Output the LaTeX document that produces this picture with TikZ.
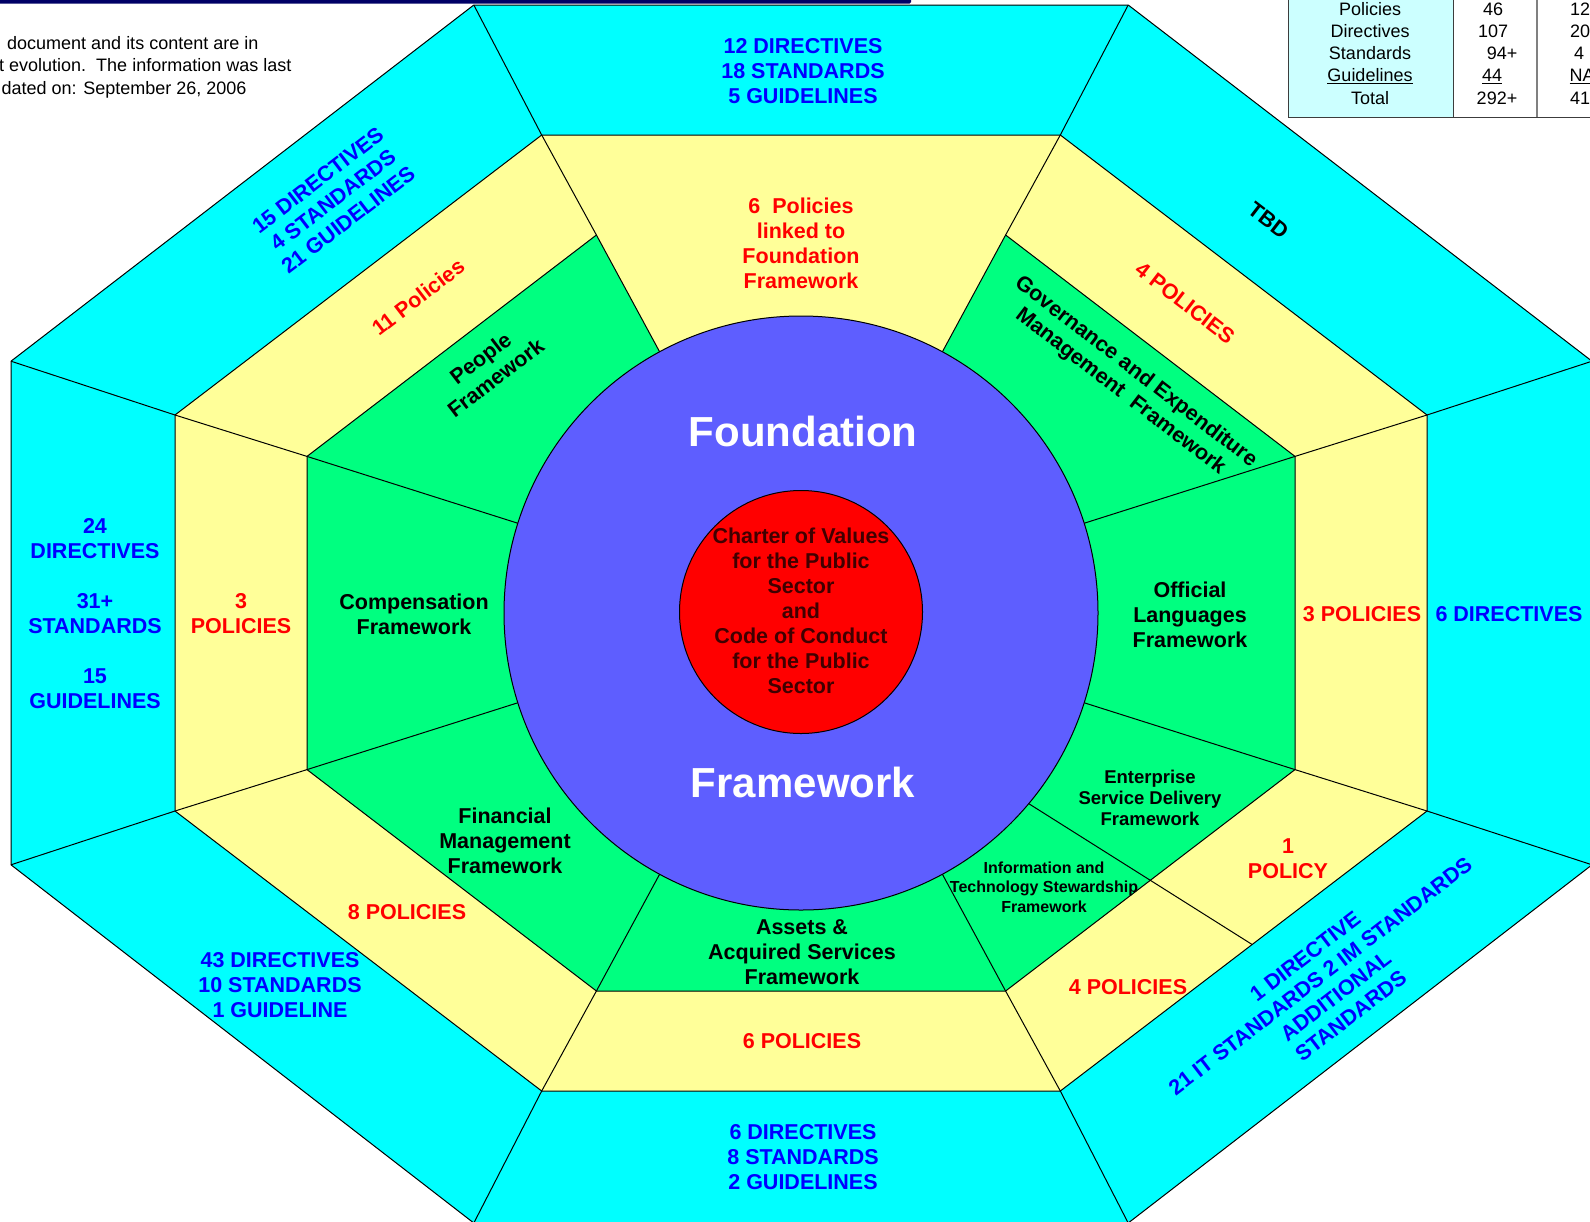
\documentclass[tikz,border=0pt]{standalone}
\usepackage{fontspec}
\setmainfont{Liberation Sans}
\usetikzlibrary{calc}
\definecolor{cyanfill}{RGB}{0,255,255}
\definecolor{yellowfill}{RGB}{255,255,153}
\definecolor{greenfill}{RGB}{0,255,128}
\definecolor{bluecircle}{RGB}{94,94,255}
\definecolor{redcircle}{RGB}{255,0,0}
\definecolor{bluetext}{RGB}{0,0,255}
\definecolor{redtext}{RGB}{255,0,0}
\definecolor{navybar}{RGB}{0,0,102}
\definecolor{tablefill}{RGB}{204,255,255}
\definecolor{charterText}{RGB}{64,0,0}
\definecolor{tableline}{RGB}{60,60,60}

\tikzset{
  edge/.style={draw=black, line width=1pt, line join=round},
  lbl/.style={font=\bfseries\fontsize{21.5}{25}\selectfont, align=center, inner sep=0pt},
  bluelbl/.style={lbl, text=bluetext},
  redlbl/.style={lbl, text=redtext},
  blacklbl/.style={lbl, text=black},
  bigwhite/.style={font=\bfseries\fontsize{42}{48}\selectfont, text=white, inner sep=0pt},
  tabtxt/.style={font=\fontsize{18}{22}\selectfont, anchor=base, inner sep=0pt},
  notetxt/.style={font=\fontsize{18}{22}\selectfont, anchor=base west, inner sep=0pt},
}

\begin{document}
\begin{tikzpicture}[x=1pt,y=-1pt]
\useasboundingbox (0,0) rectangle (1590,1221);
\clip (0,0) rectangle (1590,1221);
\fill[white] (0,0) rectangle (1590,1221);

% centre
\coordinate (C) at (801,613);
% outer octagon
\coordinate (O1) at (1128.2,5);
\coordinate (O2) at (1592,361.2);
\coordinate (O3) at (1592,864.8);
\coordinate (O4) at (1128.2,1223);
\coordinate (O5) at (473.8,1223);
\coordinate (O6) at (11,864.8);
\coordinate (O7) at (11,361.2);
\coordinate (O8) at (473.8,5);
% yellow octagon
\coordinate (Y1) at (1060.3,135);
\coordinate (Y2) at (1427,415);
\coordinate (Y3) at (1427,811);
\coordinate (Y4) at (1060.3,1091);
\coordinate (Y5) at (541.7,1091);
\coordinate (Y6) at (175,811);
\coordinate (Y7) at (175,415);
\coordinate (Y8) at (541.7,135);
% green octagon
\coordinate (G1) at (1005.6,235);
\coordinate (G2) at (1295,456.4);
\coordinate (G3) at (1295,769.6);
\coordinate (G4) at (1005.6,991);
\coordinate (G5) at (596.4,991);
\coordinate (G6) at (307,769.6);
\coordinate (G7) at (307,456.4);
\coordinate (G8) at (596.4,235);
% split line in lower right
\coordinate (S1) at (950,754);
\coordinate (Gm) at ($(G3)!0.5!(G4)$);
\coordinate (Ye) at (intersection of S1--Gm and Y3--Y4);

% fills
\fill[cyanfill] (O1)--(O2)--(O3)--(O4)--(O5)--(O6)--(O7)--(O8)--cycle;
\fill[yellowfill] (Y1)--(Y2)--(Y3)--(Y4)--(Y5)--(Y6)--(Y7)--(Y8)--cycle;
\fill[greenfill] (G1)--(G2)--(G3)--(G4)--(G5)--(G6)--(G7)--(G8)--cycle;
\fill[yellowfill] (G8)--(G1)--(C)--cycle;

% outlines
\draw[edge] (O1)--(O2)--(O3)--(O4)--(O5)--(O6)--(O7)--(O8)--cycle;
\draw[edge] (Y1)--(Y2)--(Y3)--(Y4)--(Y5)--(Y6)--(Y7)--(Y8)--cycle;
\draw[edge] (G1)--(G2)--(G3)--(G4)--(G5)--(G6)--(G7)--(G8);
\foreach \i in {1,...,8}{
  \draw[edge] (O\i)--(Y\i);
  \draw[edge] (Y\i)--(G\i);
  \draw[edge] (G\i)--(C);
}
\draw[edge] (S1)--(Ye);

% circles
\filldraw[fill=bluecircle, edge] (C) circle[radius=297pt];
\filldraw[fill=redcircle, edge] ($(C)+(0,-1)$) circle[radius=121.5pt];

% centre texts
\node[bigwhite] (found) at (803,431) {Foundation};
\node[bigwhite] (frame) at (803,782) {Framework};
\node[lbl, text=charterText] (charter) at (801,611)
  {Charter of Values\\for the Public\\Sector\\and\\Code of Conduct\\for the Public\\Sector};

% green ring labels
\node[blacklbl, rotate=37.5] (people) at (488,368) {People\\Framework};
\node[blacklbl] (comp) at (414,614) {Compensation\\Framework};
\node[blacklbl] (finance) at (505,841) {Financial\\Management\\Framework};
\node[blacklbl] (assets) at (802,952) {Assets \&\\Acquired Services\\Framework};
\node[blacklbl, font=\bfseries\fontsize{16}{19.3}\selectfont] (infotech) at (1044,887)
  {Information and\\Technology Stewardship\\Framework};
\node[blacklbl, font=\bfseries\fontsize{18.5}{21.3}\selectfont] (esd) at (1150,798)
  {Enterprise\\Service Delivery\\Framework};
\node[blacklbl] (official) at (1190,614.5) {Official\\Languages\\Framework};
\node[blacklbl, rotate=-37.5] (gov) at (1128,382)
  {Governance and Expenditure\\Management\ \ Framework};

% yellow ring labels
\node[redlbl] (ptop) at (801,243) {6\ \ Policies\\linked to\\Foundation\\Framework};
\node[redlbl, rotate=37.5] (pul) at (418,297) {11 Policies};
\node[redlbl] (pl) at (241,614) {3\\POLICIES};
\node[redlbl] (pbl) at (407,912) {8 POLICIES};
\node[redlbl] (pb) at (802,1041) {6 POLICIES};
\node[redlbl] (pbr) at (1128,987) {4 POLICIES};
\node[redlbl] (pbr2) at (1288,859) {1\\POLICY};
\node[redlbl] (pr) at (1362,614.5) {3 POLICIES};
\node[redlbl, rotate=-37.5] (pur) at (1185,303) {4 POLICIES};

% cyan ring labels
\node[bluelbl] (dtop) at (803,71) {12 DIRECTIVES\\18 STANDARDS\\5 GUIDELINES};
\node[bluelbl, rotate=37.5] (dul) at (333,200) {15 DIRECTIVES\\4 STANDARDS\\21 GUIDELINES};
\node[bluelbl] (dl) at (95,614) {24\\DIRECTIVES\\[25pt]31+\\STANDARDS\\[25pt]15\\GUIDELINES};
\node[bluelbl] (dbl) at (280,985) {43 DIRECTIVES\\10 STANDARDS\\1 GUIDELINE};
\node[bluelbl] (db) at (803,1157) {6 DIRECTIVES\\8 STANDARDS\\2 GUIDELINES};
\node[bluelbl] (dr) at (1509,614.5) {6 DIRECTIVES};
\node[bluelbl, rotate=37.5] (dbr) at (1328,986)
  {1 DIRECTIVE\\21 IT STANDARDS 2 IM STANDARDS\\ADDITIONAL\\STANDARDS};
\node[blacklbl, rotate=-37.5] (tbd) at (1268.5,220.5) {TBD};

% top bar
\fill[navybar, rounded corners=1.5pt] (-5,-3) rectangle (911,3.5);

% note text
\node[notetxt] (note1) at (7,49.3) {document and its content are in};
\node[notetxt] (note2) at (-1,71.7) {t evolution.\ \ The information was last};
\node[notetxt] (note3) at (1.5,94) {dated on: September 26, 2006};

% table
\fill[tablefill] (1288,-3) rectangle (1453,117);
\draw[tableline, line width=1pt] (1288,-3) -- (1288,117) -- (1595,117);
\draw[tableline, line width=1pt] (1453,-3) -- (1453,117);
\draw[gray, line width=1.3pt] (1537,-3) -- (1537,117);
\node[tabtxt] (t11) at (1370,15) {Policies};
\node[tabtxt] (t21) at (1370,37.3) {Directives};
\node[tabtxt] (t31) at (1370,59.6) {Standards};
\node[tabtxt] (t41) at (1370,81.9) {\underline{Guidelines}};
\node[tabtxt] (t51) at (1370,104.2) {Total};
\node[tabtxt] (t12) at (1493,15) {46};
\node[tabtxt] (t22) at (1493,37.3) {107};
\node[tabtxt] (t32) at (1502,59.6) {94+};
\node[tabtxt] (t42) at (1492,81.9) {\underline{44}};
\node[tabtxt] (t52) at (1497,104.2) {292+};
\node[tabtxt] (t13) at (1580,15) {12};
\node[tabtxt] (t23) at (1580,37.3) {20};
\node[tabtxt] (t33) at (1579,59.6) {4};
\node[tabtxt] (t43) at (1582,81.9) {\underline{NA}};
\node[tabtxt] (t53) at (1580,104.2) {41};
\end{tikzpicture}
\end{document}
